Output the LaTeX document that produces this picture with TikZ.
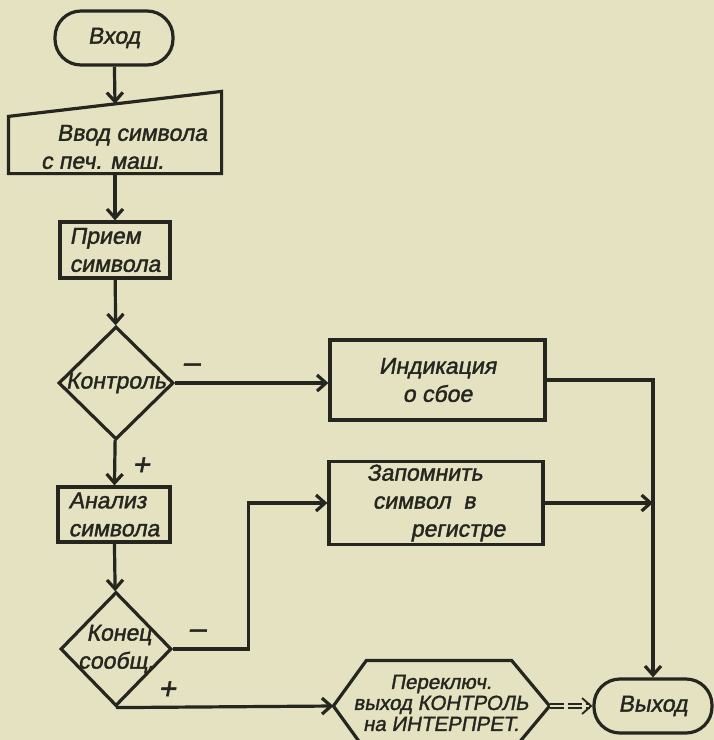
\documentclass[tikz,border=0pt]{standalone}
\usepackage{fontspec}
\setmainfont{Liberation Sans}
\newfontfamily\hand[FakeSlant=0.18,FakeBold=1.6]{Liberation Sans}
\usetikzlibrary{shapes.geometric,arrows.meta}
\definecolor{paper}{RGB}{228,226,192}
\definecolor{ink}{RGB}{38,38,32}

\begin{document}
\begin{tikzpicture}[x=1pt,y=-1pt,>={Straight Barb[length=9pt,width=16pt]},
  line width=3.2pt,draw=ink,text=ink,
  font=\hand\fontsize{23}{28}\selectfont,
  term/.style={draw,rectangle,rounded corners=26pt,minimum width=118pt,minimum height=54pt},
  opbox/.style={draw,rectangle,inner sep=3pt},
  decide/.style={draw,diamond,inner sep=2pt},
  sign/.style={font=\hand\fontsize{30}{30}\selectfont}]
\path[use as bounding box,fill=paper] (0,0) rectangle (714,740);

% left column
\node[term] (vhod) at (114,38) {Вход};
\node[minimum width=210pt,minimum height=79pt] (vvod) at (115,132.5) {};
\draw (vvod.south west) -- (vvod.south east) -- (vvod.north east)
  -- ([yshift=-25pt]vvod.north west) -- cycle;
\node[align=left] (vvodtext) at (124,147) {\hspace*{16pt}Ввод символа\\с печ. маш.};
\node[opbox,minimum width=110pt,minimum height=56pt,align=left] (priem) at (115,250) {Прием\\символа};
\node[decide,minimum width=115pt,minimum height=113pt] (kontrol) at (116,383) {\makebox[0pt]{Контроль}};
\node[opbox,minimum width=112pt,minimum height=55pt,align=left] (analiz) at (114,514.5) {Анализ\\символа};
\node[decide,minimum width=111pt,minimum height=114pt] (konec) at (116,649)
  {\makebox[0pt]{\begin{tabular}{@{}c@{}}\hspace*{6pt}Конец\\сообщ.\end{tabular}}};

% right column
\node[opbox,minimum width=215pt,minimum height=80pt,align=center] (indik) at (437.5,380) {Индикация\\о сбое};
\node[opbox,minimum width=214pt,minimum height=80pt,align=left] (zapom) at (436,503)
  {Запомнить\\\hspace*{6pt}символ\ \ в\\\hspace*{44pt}регистре};
\node[minimum width=213pt,minimum height=88pt] (perekl) at (441.5,706) {};
\draw (perekl.west) -- ([xshift=33pt]perekl.north west) -- ([xshift=-38pt]perekl.north east)
  -- (perekl.east) -- ([xshift=-38pt]perekl.south east) -- ([xshift=33pt]perekl.south west) -- cycle;
\node[align=center,font=\hand\fontsize{20.5}{21}\selectfont] (perekltext) at (441,703)
  {Переключ.\\выход КОНТРОЛЬ\\на ИНТЕРПРЕТ.};
\node[term] (vyhod) at (653,706) {Выход};

% signs
\node[sign] (minus1) at (191,368) {–};
\node[sign] (plus1) at (141,466) {+};
\node[sign] (minus2) at (197,634) {–};
\node[sign] (plus2) at (167,690) {+};

% connectors
\draw[->] (vhod) -- ([yshift=-12.5pt]vvod.north);
\draw[->] (vvod.south) -- (priem);
\draw[->] (priem) -- (kontrol);
\draw[->] (kontrol.east) -- (kontrol.east -| indik.west);
\draw[->] (kontrol) -- (analiz);
\draw[->] (analiz) -- (konec);
\draw[->] (konec.east) -- ++(75,0) |- (zapom.west);
\draw[->] (konec.south) -- (perekl.west);
\draw[->] (indik.east) -| (vyhod.north);
\draw[->] (zapom.east) -- (zapom.east -| vyhod.north);
\draw[->,double=paper,double distance=2.4pt,line width=1.8pt,dash pattern=on 14pt off 4pt]
  (perekl.east) -- (vyhod.west);
\end{tikzpicture}
\end{document}
